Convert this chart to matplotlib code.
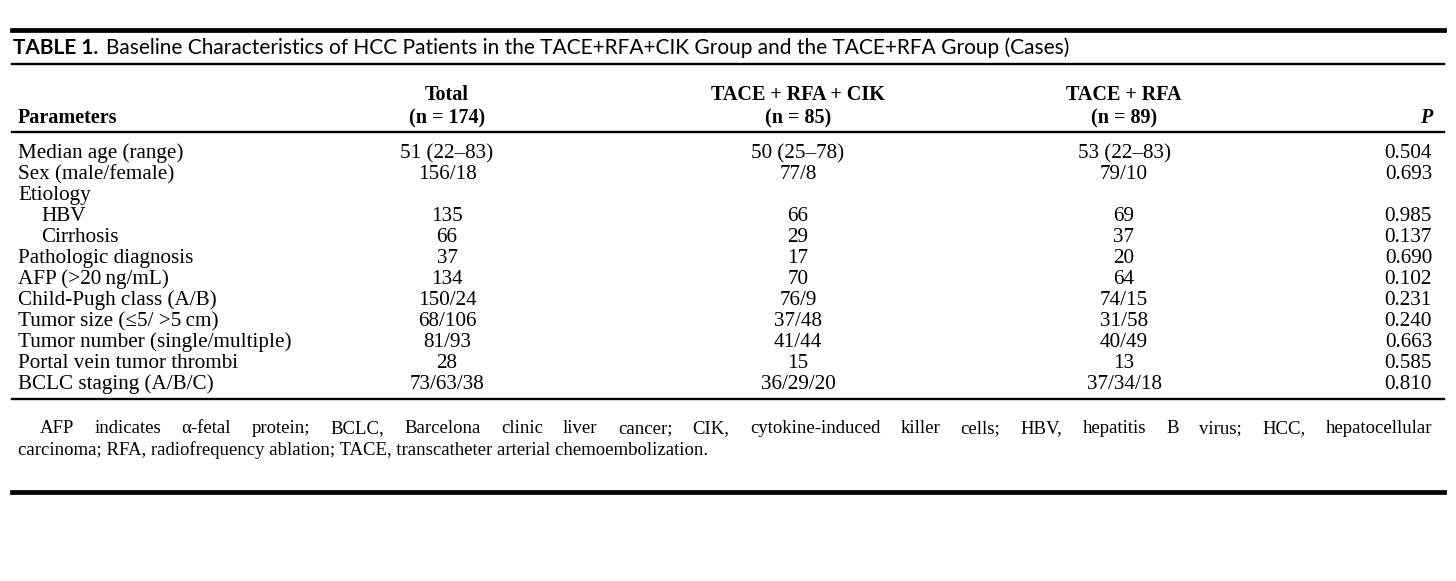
import matplotlib.pyplot as plt
from matplotlib.lines import Line2D

W, H = 1456, 581

title_bold = "TABLE 1."
title_rest = "Baseline Characteristics of HCC Patients in the TACE+RFA+CIK Group and the TACE+RFA Group (Cases)"

group_names = ["Total", "TACE + RFA + CIK", "TACE + RFA"]
group_sizes = ["(n = 174)", "(n = 85)", "(n = 89)"]

parameters = [
    "Median age (range)", "Sex (male/female)", "Etiology", "HBV", "Cirrhosis",
    "Pathologic diagnosis", "AFP (>20\u2009ng/mL)", "Child-Pugh class (A/B)",
    "Tumor size (\u22645/ >5\u2009cm)", "Tumor number (single/multiple)",
    "Portal vein tumor thrombi", "BCLC staging (A/B/C)",
]
indented = [False, False, False, True, True, False, False, False, False, False, False, False]
total = ["51 (22\u201383)", "156/18", "", "135", "66", "37", "134", "150/24",
         "68/106", "81/93", "28", "73/63/38"]
tace_rfa_cik = ["50 (25\u201378)", "77/8", "", "66", "29", "17", "70", "76/9",
                "37/48", "41/44", "15", "36/29/20"]
tace_rfa = ["53 (22\u201383)", "79/10", "", "69", "37", "20", "64", "74/15",
            "31/58", "40/49", "13", "37/34/18"]
p_values = ["0.504", "0.693", "", "0.985", "0.137", "0.690", "0.102", "0.231",
            "0.240", "0.663", "0.585", "0.810"]

footnote = [
    "AFP indicates \u03b1-fetal protein; BCLC, Barcelona clinic liver cancer; CIK, cytokine-induced killer cells; HBV, hepatitis B virus; HCC, hepatocellular",
    "carcinoma; RFA, radiofrequency ablation; TACE, transcatheter arterial chemoembolization.",
]

serif = "Liberation Serif"
sans = "Lato"
body_size = 15.2
head_size = 14.5
foot_size = 13.5

fig = plt.figure(figsize=(W / 100, H / 100), dpi=100)


def fx(x):
    return x / W


def fy(y):
    return 1 - y / H


def rule(y, lw):
    fig.add_artist(Line2D([fx(12), fx(1444)], [fy(y), fy(y)], color="black", lw=lw))


# rules
rule(30, 3.4)
rule(64, 1.7)
rule(132, 1.7)
rule(399, 1.7)
rule(492, 3.4)

# title (baseline ~54)
t = fig.text(fx(13), fy(54), title_bold, fontsize=15, family=sans, weight="bold", va="baseline")
fig.canvas.draw()
renderer = fig.canvas.get_renderer()
bb = t.get_window_extent(renderer)
fig.text(bb.x1 / W + fx(8), fy(54), title_rest, fontsize=15, family=sans, va="baseline")

# header
col_x = [447, 798, 1124]
for x, name, n in zip(col_x, group_names, group_sizes):
    fig.text(fx(x), fy(100), name, fontsize=head_size, family=serif, weight="bold",
             ha="center", va="baseline")
    fig.text(fx(x), fy(123), n, fontsize=head_size, family=serif, weight="bold",
             ha="center", va="baseline")
fig.text(fx(18), fy(123), "Parameters", fontsize=head_size, family=serif, weight="bold", va="baseline")
fig.text(fx(1432), fy(123), "P", fontsize=head_size, family=serif, weight="bold", style="italic",
         ha="right", va="baseline")

# body rows
row_y0, row_step = 158, 21
for i, name in enumerate(parameters):
    y = fy(row_y0 + i * row_step)
    fig.text(fx(41 if indented[i] else 18), y, name, fontsize=body_size, family=serif, va="baseline")
    for x, col in zip(col_x, [total, tace_rfa_cik, tace_rfa]):
        fig.text(fx(x), y, col[i], fontsize=body_size, family=serif, ha="center", va="baseline")
    fig.text(fx(1432), y, p_values[i], fontsize=body_size, family=serif, ha="right", va="baseline")

# footnote, first line justified between x=40 and x=1432
words = footnote[0].split(" ")
widths = []
for w in words:
    tw = fig.text(0, 0, w, fontsize=foot_size, family=serif)
    widths.append(tw.get_window_extent(renderer).width)
    tw.remove()
gap = (1432 - 40 - sum(widths)) / (len(words) - 1)
x = 40
for w, wd in zip(words, widths):
    fig.text(fx(x), fy(433), w, fontsize=foot_size, family=serif, va="baseline")
    x += wd + gap
fig.text(fx(18), fy(455), footnote[1], fontsize=foot_size, family=serif, va="baseline")

fig.savefig("out.png", dpi=100)
